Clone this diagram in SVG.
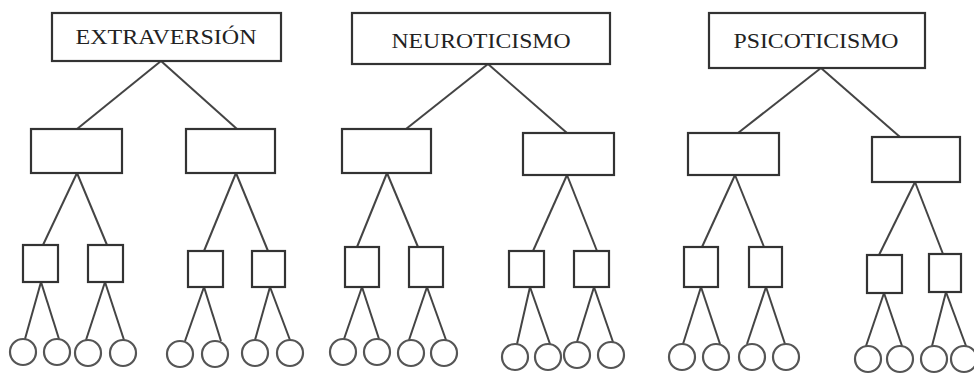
<svg xmlns="http://www.w3.org/2000/svg" width="974" height="374" viewBox="0 0 974 374">
<style>
.box{fill:#fff;stroke:#333;stroke-width:2.2}
.leaf{fill:#fff;stroke:#555;stroke-width:2.2}
.conn line{stroke:#444;stroke-width:2}
.lbl{font-family:"Liberation Serif","Times New Roman",serif;font-size:22px;fill:#222;text-anchor:middle}
</style>
<rect width="974" height="374" fill="#fff"/>
<g id="connectors" class="conn">
<line x1="161" y1="61" x2="77" y2="129"/><line x1="161" y1="61" x2="237" y2="129"/>
<line x1="77" y1="173" x2="43" y2="245"/><line x1="77" y1="173" x2="107" y2="245"/>
<line x1="236" y1="173" x2="204" y2="251"/><line x1="236" y1="173" x2="268" y2="251"/>
<line x1="41" y1="282" x2="25" y2="339"/><line x1="41" y1="282" x2="59" y2="339"/>
<line x1="105" y1="282" x2="86" y2="340"/><line x1="105" y1="282" x2="124" y2="340"/>
<line x1="204" y1="287" x2="185" y2="341"/><line x1="204" y1="287" x2="221" y2="341"/>
<line x1="270" y1="287" x2="255" y2="340"/><line x1="270" y1="287" x2="290" y2="340"/>
<line x1="488" y1="64" x2="406" y2="129"/><line x1="488" y1="64" x2="567" y2="133"/>
<line x1="387" y1="173" x2="357" y2="247"/><line x1="387" y1="173" x2="418" y2="247"/>
<line x1="567" y1="175" x2="533" y2="251"/><line x1="567" y1="175" x2="597" y2="251"/>
<line x1="362" y1="287" x2="344" y2="339"/><line x1="362" y1="287" x2="379" y2="339"/>
<line x1="427" y1="287" x2="409" y2="340"/><line x1="427" y1="287" x2="446" y2="340"/>
<line x1="530" y1="287" x2="517" y2="344"/><line x1="530" y1="287" x2="550" y2="344"/>
<line x1="594" y1="287" x2="577" y2="342"/><line x1="594" y1="287" x2="613" y2="342"/>
<line x1="821" y1="68" x2="738" y2="133"/><line x1="821" y1="68" x2="900" y2="137"/>
<line x1="735" y1="175" x2="702" y2="247"/><line x1="735" y1="175" x2="764" y2="247"/>
<line x1="915" y1="182" x2="879" y2="255"/><line x1="915" y1="182" x2="943" y2="254"/>
<line x1="701" y1="287" x2="683" y2="344"/><line x1="701" y1="287" x2="720" y2="344"/>
<line x1="766" y1="287" x2="747" y2="344"/><line x1="766" y1="287" x2="785" y2="344"/>
<line x1="884" y1="293" x2="866" y2="346"/><line x1="884" y1="293" x2="902" y2="346"/>
<line x1="946" y1="292" x2="932" y2="346"/><line x1="946" y1="292" x2="966" y2="346"/>
</g>
<g id="extraversion"><rect class="box" x="52" y="13" width="229" height="48"/><text class="lbl" x="166" y="44" textLength="181" lengthAdjust="spacingAndGlyphs">EXTRAVERSIÓN</text></g>
<g id="neuroticismo"><rect class="box" x="352" y="13" width="258" height="51"/><text class="lbl" x="481" y="48" textLength="179" lengthAdjust="spacingAndGlyphs">NEUROTICISMO</text></g>
<g id="psicoticismo"><rect class="box" x="709" y="13" width="216" height="55"/><text class="lbl" x="816" y="48" textLength="165" lengthAdjust="spacingAndGlyphs">PSICOTICISMO</text></g>
<g id="mid-a"><rect class="box" x="31" y="129" width="91" height="44"/></g>
<g id="mid-b"><rect class="box" x="186" y="129" width="89" height="44"/></g>
<g id="mid-c"><rect class="box" x="342" y="129" width="89" height="44"/></g>
<g id="mid-d"><rect class="box" x="523" y="133" width="91" height="42"/></g>
<g id="mid-e"><rect class="box" x="688" y="133" width="91" height="42"/></g>
<g id="mid-f"><rect class="box" x="872" y="137" width="88" height="45"/></g>
<g id="sq1"><rect class="box" x="23" y="245" width="35" height="37"/></g>
<g id="sq2"><rect class="box" x="88" y="245" width="35" height="37"/></g>
<g id="sq3"><rect class="box" x="188" y="251" width="35" height="36"/></g>
<g id="sq4"><rect class="box" x="252" y="251" width="33" height="36"/></g>
<g id="sq5"><rect class="box" x="345" y="247" width="34" height="40"/></g>
<g id="sq6"><rect class="box" x="409" y="247" width="34" height="40"/></g>
<g id="sq7"><rect class="box" x="509" y="251" width="35" height="36"/></g>
<g id="sq8"><rect class="box" x="574" y="251" width="35" height="36"/></g>
<g id="sq9"><rect class="box" x="684" y="247" width="34" height="40"/></g>
<g id="sq10"><rect class="box" x="749" y="247" width="33" height="40"/></g>
<g id="sq11"><rect class="box" x="867" y="255" width="35" height="38"/></g>
<g id="sq12"><rect class="box" x="929" y="254" width="32" height="38"/></g>
<g id="c1"><circle class="leaf" cx="23" cy="352" r="13"/></g>
<g id="c2"><circle class="leaf" cx="57" cy="352" r="13"/></g>
<g id="c3"><circle class="leaf" cx="88" cy="353" r="13"/></g>
<g id="c4"><circle class="leaf" cx="123" cy="353" r="13"/></g>
<g id="c5"><circle class="leaf" cx="180" cy="354" r="13"/></g>
<g id="c6"><circle class="leaf" cx="215" cy="354" r="13"/></g>
<g id="c7"><circle class="leaf" cx="255" cy="353" r="13"/></g>
<g id="c8"><circle class="leaf" cx="290" cy="353" r="13"/></g>
<g id="c9"><circle class="leaf" cx="343" cy="352" r="13"/></g>
<g id="c10"><circle class="leaf" cx="377" cy="352" r="13"/></g>
<g id="c11"><circle class="leaf" cx="411" cy="353" r="13"/></g>
<g id="c12"><circle class="leaf" cx="444" cy="353" r="13"/></g>
<g id="c13"><circle class="leaf" cx="515" cy="357" r="13"/></g>
<g id="c14"><circle class="leaf" cx="548" cy="357" r="13"/></g>
<g id="c15"><circle class="leaf" cx="577" cy="355" r="13"/></g>
<g id="c16"><circle class="leaf" cx="611" cy="355" r="13"/></g>
<g id="c17"><circle class="leaf" cx="682" cy="357" r="13"/></g>
<g id="c18"><circle class="leaf" cx="716" cy="357" r="13"/></g>
<g id="c19"><circle class="leaf" cx="752" cy="357" r="13"/></g>
<g id="c20"><circle class="leaf" cx="786" cy="357" r="13"/></g>
<g id="c21"><circle class="leaf" cx="868" cy="359" r="13"/></g>
<g id="c22"><circle class="leaf" cx="900" cy="359" r="13"/></g>
<g id="c23"><circle class="leaf" cx="934" cy="359" r="13"/></g>
<g id="c24"><circle class="leaf" cx="964" cy="359" r="13"/></g>
</svg>
